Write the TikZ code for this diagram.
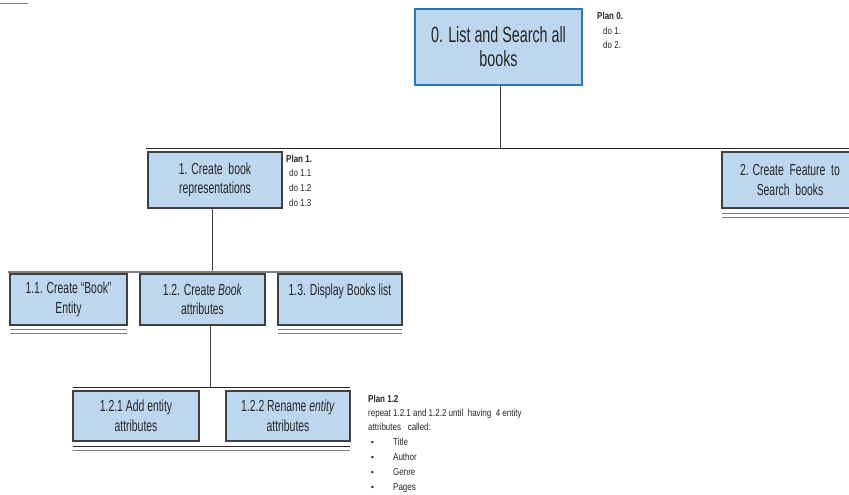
\documentclass[tikz,border=0pt]{standalone}
\usepackage{fontspec}
\setmainfont{Liberation Sans}[FakeStretch=0.65]
\newfontfamily\planfont{Liberation Sans}[FakeStretch=0.8]
\newfontfamily\bulletfont{DejaVu Sans}
\definecolor{boxfill}{HTML}{BDD7EE}
\definecolor{topborder}{HTML}{2E75B6}
\definecolor{edge}{HTML}{404040}
\definecolor{txt}{HTML}{262626}
\definecolor{shadow}{HTML}{808080}
\begin{document}
\begin{tikzpicture}[x=1pt,y=-1pt,
  boxnode/.style={draw=edge, line width=1.1pt, fill=boxfill, rectangle, inner sep=2pt,
     align=center, text=txt, font=\fontsize{16}{19.5}\selectfont},
  topnode/.style={draw=topborder, line width=2.6pt, fill=boxfill, rectangle,
     align=center, text=txt, font=\fontsize{22}{24}\selectfont},
  conn/.style={draw=edge, line width=0.9pt},
  hbar/.style={draw=black!85, line width=1pt},
  dbl/.style={draw=shadow, line width=1pt},
  plantext/.style={anchor=base west, inner sep=0pt, text=txt,
     font=\planfont\fontsize{10}{12}\selectfont},
]
\useasboundingbox (0,0) rectangle (849,495);
\clip (0,0) rectangle (849,495);
% top-left fragment
\draw[shadow, line width=0.8pt] (0,3) -- (28,3);
% top box
\node[topnode, minimum width=167pt, minimum height=76pt] (b0) at (498.5,47) {0. List and Search all\\books};
\node[plantext] (p0) at (597,20) {\textbf{Plan 0.}};
\node[plantext] (p0a) at (603,35) {do 1.};
\node[plantext] (p0b) at (603,49) {do 2.};
% level 1
\coordinate (j0) at (500,148);
\coordinate (h0l) at (146,148);
\coordinate (h0r) at (849,148);
\draw[conn] (b0.south -| j0) -- (j0);
\draw[hbar] (h0l) -- (h0r);
\node[boxnode, minimum width=134pt, minimum height=56pt] (b1) at (215,180) {1. Create\ \ book\\representations};
\node[plantext] (p1) at (286,162) {\textbf{Plan 1.}};
\node[plantext] (p1a) at (289,176) {do 1.1};
\node[plantext] (p1b) at (289,191) {do 1.2};
\node[plantext] (p1c) at (289,206) {do 1.3};
\node[boxnode, minimum width=136pt, minimum height=56pt] (b2) at (790,180) {2. Create\ \ Feature\ \ to\\Search\ \ books};
\draw[dbl] (722,213) -- (849,213);
\draw[dbl] (722,217) -- (849,217);
% level 2
\coordinate (j1) at (212,272);
\coordinate (h1l) at (8,272);
\coordinate (h1r) at (402,272);
\draw[conn] (b1.south -| j1) -- (j1);
\draw[draw=shadow, line width=1.6pt] (h1l) -- (h1r);
\node[boxnode, minimum width=117pt, minimum height=51pt] (b11) at (68.5,299.5) {1.1. Create ``Book''\\Entity};
\node[boxnode, minimum width=125pt, minimum height=51pt] (b12) at (202.5,299.5) {1.2. Create \textit{Book}\\attributes};
\node[boxnode, minimum width=124pt, minimum height=51pt] (b13) at (340,299.5) {1.3. Display Books list\\\mbox{}};
\draw[dbl] (10,329) -- (127,329);
\draw[dbl] (10,333) -- (127,333);
\draw[dbl] (278,329) -- (402,329);
\draw[dbl] (278,333) -- (402,333);
% level 3
\coordinate (j2) at (210,387);
\coordinate (h2l) at (73,387);
\coordinate (h2r) at (350,387);
\draw[conn] (b12.south -| j2) -- (j2);
\draw[hbar] (h2l) -- (h2r);
\node[boxnode, minimum width=126pt, minimum height=50pt] (b121) at (136,416) {1.2.1 Add entity\\attributes};
\node[boxnode, minimum width=124pt, minimum height=50pt] (b122) at (288,416) {1.2.2 Rename \textit{entity}\\attributes};
\draw[draw=black!85, line width=1pt] (73,446) -- (350,446);
\draw[dbl] (73,450) -- (350,450);
% plan 1.2
\node[plantext] (p12) at (368,402) {\textbf{Plan 1.2}};
\node[plantext] (p12a) at (368,416) {repeat 1.2.1 and 1.2.2 until\ \ having\ \ 4 entity};
\node[plantext] (p12b) at (368,430) {attributes\ \ \ called:};
\foreach \y/\t [count=\i] in {445/Title,460/Author,475/Genre,490/Pages}{
  \node[plantext] (bul\i) at (370,\y) {\bulletfont\fontsize{8}{10}\selectfont •};
  \node[plantext] (item\i) at (393,\y) {\t};
}
\end{tikzpicture}
\end{document}
